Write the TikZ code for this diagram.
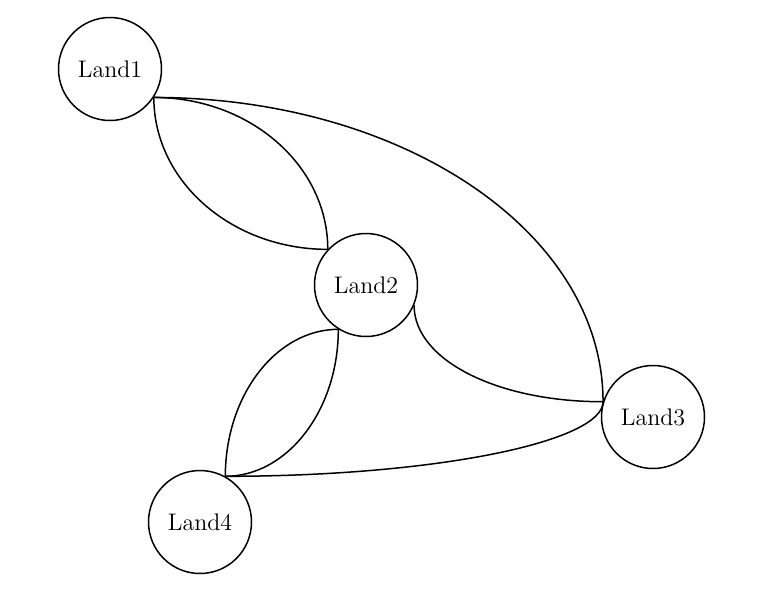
\documentclass[tikz,border=0pt]{standalone}
\begin{document}
\begin{tikzpicture}[x=0.5pt,y=0.5pt,line width=0.75pt,line cap=round,line join=round,
	font=\fontsize{12}{14}\selectfont,
	land/.style={draw,circle,minimum size=51.5pt,inner sep=0pt}]
	\useasboundingbox (0,0) rectangle (777,-596);
	\node[land] (land1) at (110,-69) {Land1};
	\node[land] (land2) at (366,-285) {Land2};
	\node[land] (land3) at (653,-417) {Land3};
	\node[land] (land4) at (200,-522) {Land4};
	% bridges, drawn as quarter ellipses
	\draw (land1.-33) .. controls +(0,-84) and +(-96,0) .. (land2.137);
	\draw (land1.-33) .. controls +(96,0) and +(0,84) .. (land2.137);
	\draw (land1.-33) .. controls +(250,0) and +(0,169) .. (land3.163);
	\draw (land2.-23) .. controls +(0,-54) and +(-107,0) .. (land3.163);
	\draw (land2.-122) .. controls +(-62,0) and +(0,81) .. (land4.61);
	\draw (land2.-122) .. controls +(0,-81) and +(62,0) .. (land4.61);
	\draw (land4.61) .. controls +(210,0) and +(0,-40) .. (land3.163);
\end{tikzpicture}
\end{document}
